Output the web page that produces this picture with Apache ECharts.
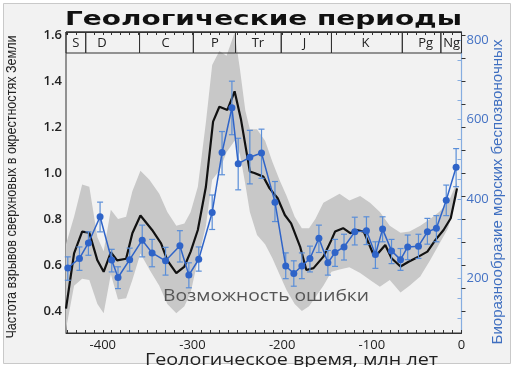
<!DOCTYPE html>
<html><head><meta charset="utf-8">
<script src="https://cdn.jsdelivr.net/npm/echarts@6/dist/echarts.min.js"></script>
<style>html,body{margin:0;padding:0;background:#fff}#c{width:514px;height:367px}</style>
</head><body><div id="c"></div>
<script>
const titleText = 'Геологические периоды';
const xName = 'Геологическое время, млн лет';
const yLeftName = 'Частота взрывов сверхновых в окрестностях Земли';
const yRightName = 'Биоразнообразие морских беспозвоночных';
const bandLabel = 'Возможность ошибки';

const periodNames = ['S','D','C','P','Tr','J','K','Pg','Ng'];
const periodStart = [-441,-419,-359,-299,-252,-201,-145,-66,-23];
const periodEnd = [-419,-359,-299,-252,-201,-145,-66,-23,0];
const periodLabelAt = [-430,-401,-330,-275,-227,-175,-107,-40,-11];

const rateTime = [-441,-432,-423,-415,-406,-399,-391,-384,-374,-367,-358,-345,-335,-328,-318,-309,-302,-294,-285,-277,-270,-261,-253,-246,-236,-231,-221,-214,-205,-197,-190,-180,-173,-165,-154,-145,-141,-132,-124,-117,-109,-98,-93,-85,-78,-68,-59,-48,-38,-29,-20,-12,-5];
const rateValue = [0.41,0.65,0.745,0.74,0.62,0.57,0.655,0.62,0.627,0.738,0.815,0.752,0.694,0.62,0.564,0.593,0.658,0.752,0.94,1.223,1.288,1.274,1.355,1.235,1.006,1.0,0.984,0.933,0.89,0.817,0.781,0.68,0.578,0.586,0.636,0.709,0.745,0.76,0.738,0.752,0.745,0.643,0.651,0.687,0.629,0.593,0.614,0.636,0.658,0.709,0.752,0.803,0.933];

const bandTime = [-441,-432,-423,-415,-406,-399,-391,-383,-374,-367,-358,-348,-337,-328,-318,-309,-302,-294,-285,-278,-270,-262,-253,-247,-241,-236,-228,-219,-211,-203,-195,-186,-178,-170,-163,-154,-145,-136,-125,-113,-102,-91,-80,-68,-58,-46,-35,-25,-15,-5];
const bandUpper = [0.69,0.81,0.95,0.94,0.72,0.66,0.84,0.80,0.81,0.92,1.01,0.97,0.91,0.83,0.77,0.78,0.83,0.94,1.22,1.47,1.53,1.51,1.61,1.45,1.27,1.19,1.19,1.14,1.05,0.97,0.90,0.81,0.76,0.76,0.80,0.87,0.89,0.91,0.88,0.90,0.87,0.83,0.77,0.74,0.745,0.77,0.80,0.83,0.87,0.96];
const bandLower = [0.32,0.51,0.54,0.535,0.43,0.39,0.56,0.45,0.455,0.535,0.65,0.58,0.51,0.43,0.39,0.42,0.48,0.62,0.77,0.97,1.01,1.09,1.14,1.08,0.95,0.83,0.73,0.69,0.63,0.56,0.49,0.43,0.40,0.42,0.46,0.51,0.57,0.58,0.59,0.565,0.535,0.505,0.535,0.48,0.51,0.55,0.62,0.69,0.76,0.90];

const bioTime = [-439,-426,-416,-403,-390,-383,-370,-356,-345,-330,-314,-304,-293,-278,-267,-256,-249,-236,-223,-208,-196,-187,-178,-169,-159,-149,-141,-131,-119,-106,-96,-88,-78,-68,-60,-48,-38,-28,-17,-6];
const bioValue = [226,250,289,355,246,202,247,296,264,244,282,208,248,366,517,630,489,505,516,392,231,212,231,250,301,239,265,279,317,320,260,324,269,247,279,281,317,326,397,480];
const bioLow = [195,220,258,317,216,174,218,254,229,208,241,176,218,323,461,562,423,438,452,343,199,180,199,216,265,208,230,246,284,285,225,292,237,220,247,250,286,292,358,431];
const bioHigh = [254,279,317,392,273,229,276,334,298,278,320,239,279,410,570,697,553,573,576,444,264,244,264,281,334,270,298,311,354,355,292,355,298,275,309,311,351,358,435,527];

const xMin = -441, xMax = 0;
const yMin = 0.304, yMax = 1.613;
const rMin = 62, rMax = 821;

const ctx = document.createElement('canvas').getContext('2d');
function fitScale(text, size, family, weight, target) {
  ctx.font = (weight || 'normal') + ' ' + size + 'px ' + family;
  return target / ctx.measureText(text).width;
}
function near(v, step) { const q = v / step; return Math.abs(q - Math.round(q)) < 1e-6; }

const chart = echarts.init(document.getElementById('c'), null, {renderer: 'canvas'});

const titleFont = {size: 20, family: '"DejaVu Sans"', weight: 'bold'};
const sideFont = {size: 15, family: '"Liberation Sans"', weight: 'normal'};
const xNameFont = {size: 17, family: '"Open Sans"', weight: 'normal'};
const bandFont = {size: 17, family: '"Open Sans"', weight: 'normal'};

function textEl(text, f, x, y, target, color, rot) {
  return {
    type: 'text', x: x, y: y, rotation: rot || 0,
    scaleX: fitScale(text, f.size, f.family, f.weight, target), scaleY: 1,
    style: {text: text, fontSize: f.size, fontFamily: f.family.replace(/"/g,''), fontWeight: f.weight,
      fill: color, align: 'center', verticalAlign: 'middle'},
    z: 100
  };
}

const option = {
  backgroundColor: '#ffffff',
  animation: false,
  grid: {left: 66, right: 52.5, top: 32, bottom: 34, show: true, borderColor: '#333', borderWidth: 1, backgroundColor: 'transparent'},
  xAxis: [
    {type: 'value', min: xMin, max: xMax, minInterval: 10, maxInterval: 10, position: 'bottom',
      axisLine: {show: true, lineStyle: {color: '#333'}},
      axisTick: {show: true, inside: true, length: 3, lineStyle: {color: '#333'}},
      axisLabel: {margin: 6, color: '#222', fontSize: 13, fontFamily: 'Open Sans',
        showMinLabel: false, formatter: v => near(v, 100) ? String(Math.round(v)) : ''},
      splitLine: {show: false}},
    {type: 'value', min: xMin, max: xMax, minInterval: 10, maxInterval: 10, position: 'top',
      axisLine: {show: true, lineStyle: {color: '#333'}},
      axisTick: {show: true, inside: true, length: 3, lineStyle: {color: '#333'}},
      axisLabel: {show: false}, splitLine: {show: false}}
  ],
  yAxis: [
    {type: 'value', min: yMin, max: yMax, minInterval: 0.1, maxInterval: 0.1, position: 'left',
      axisLine: {show: true, lineStyle: {color: '#333'}},
      axisTick: {show: true, inside: true, length: 4, lineStyle: {color: '#333'}},
      axisLabel: {margin: 4, color: '#222', fontSize: 13, fontFamily: 'Open Sans', fontWeight: 600,
        showMinLabel: false, showMaxLabel: false,
        formatter: v => (near(v, 0.2)) ? v.toFixed(1) : ''},
      splitLine: {show: false}},
    {type: 'value', min: rMin, max: rMax, minInterval: 50, maxInterval: 50, position: 'right',
      axisLine: {show: true, lineStyle: {color: '#86ade0', width: 1.2}},
      axisTick: {show: true, inside: true, length: 4, lineStyle: {color: '#86ade0'}},
      axisLabel: {margin: 5, color: '#4472c4', fontSize: 13, fontFamily: 'Open Sans',
        showMinLabel: false, showMaxLabel: false,
        formatter: v => near(v, 200) ? String(Math.round(v)) : ''},
      splitLine: {show: false}}
  ],
  graphic: [
    {type: 'rect', shape: {x: 3.5, y: 3.5, width: 507, height: 360}, style: {fill: '#f2f2f2', stroke: '#c9c9c9', lineWidth: 1}, z: -10, silent: true},
    textEl(titleText, titleFont, 263.5, 20, 397, '#111', 0),
    textEl(yLeftName, sideFont, 12, 187, 303, '#222', Math.PI / 2),
    textEl(yRightName, sideFont, 498, 192, 305, '#3f6fc0', Math.PI / 2),
    textEl(xName, xNameFont, 291.5, 360, 293, '#222', 0),
    textEl(bandLabel, bandFont, 266, 296, 206, '#555', 0)
  ],
  series: [
    {type: 'custom', name: 'band', xAxisIndex: 0, yAxisIndex: 0, silent: true, z: 1,
      data: [[0]],
      renderItem: function (params, api) {
        const pts = [];
        for (let i = 0; i < bandTime.length; i++) pts.push(api.coord([bandTime[i], bandUpper[i]]));
        for (let i = bandTime.length - 1; i >= 0; i--) pts.push(api.coord([bandTime[i], bandLower[i]]));
        return {type: 'polygon', shape: {points: pts}, style: {fill: '#c8c8c8'}};
      }},
    {type: 'line', name: 'rate', xAxisIndex: 0, yAxisIndex: 0, z: 3,
      data: rateTime.map((t, i) => [t, rateValue[i]]),
      showSymbol: false, symbol: 'none', lineStyle: {color: '#111', width: 2.2}, itemStyle: {color: '#111'}},
    {type: 'custom', name: 'err', xAxisIndex: 0, yAxisIndex: 1, z: 4, silent: true,
      data: bioTime.map((t, i) => [t, bioLow[i], bioHigh[i]]),
      renderItem: function (params, api) {
        const lo = api.coord([api.value(0), api.value(1)]);
        const hi = api.coord([api.value(0), api.value(2)]);
        const w = 3, st = {stroke: '#5a8ed8', lineWidth: 1.2};
        return {type: 'group', children: [
          {type: 'line', shape: {x1: lo[0], y1: lo[1], x2: hi[0], y2: hi[1]}, style: st},
          {type: 'line', shape: {x1: lo[0] - w, y1: lo[1], x2: lo[0] + w, y2: lo[1]}, style: st},
          {type: 'line', shape: {x1: hi[0] - w, y1: hi[1], x2: hi[0] + w, y2: hi[1]}, style: st}
        ]};
      }},
    {type: 'line', name: 'bio', xAxisIndex: 0, yAxisIndex: 1, z: 5,
      data: bioTime.map((t, i) => [t, bioValue[i]]),
      symbol: 'circle', symbolSize: 7, showSymbol: true,
      lineStyle: {color: '#2f64c8', width: 1.5}, itemStyle: {color: '#2f64c8'}},
    {type: 'custom', name: 'periods', xAxisIndex: 0, yAxisIndex: 0, z: 6, silent: true,
      data: periodNames.map((n, i) => [periodStart[i], periodEnd[i], periodLabelAt[i], i]),
      renderItem: function (params, api) {
        const i = api.value(3);
        const a = api.coord([api.value(0), yMax]);
        const b = api.coord([api.value(1), yMax]);
        const c = api.coord([api.value(2), yMax]);
        const h = 21;
        return {type: 'group', children: [
          {type: 'rect', shape: {x: a[0], y: a[1], width: b[0] - a[0], height: h},
            style: {fill: 'none', stroke: '#333', lineWidth: 1}},
          {type: 'text', x: c[0], y: a[1] + 11.5,
            style: {text: periodNames[i], fontSize: 13, fontFamily: 'Open Sans', fill: '#222',
              align: 'center', verticalAlign: 'middle'}}
        ]};
      }}
  ]
};
chart.setOption(option);
</script>
</body></html>
